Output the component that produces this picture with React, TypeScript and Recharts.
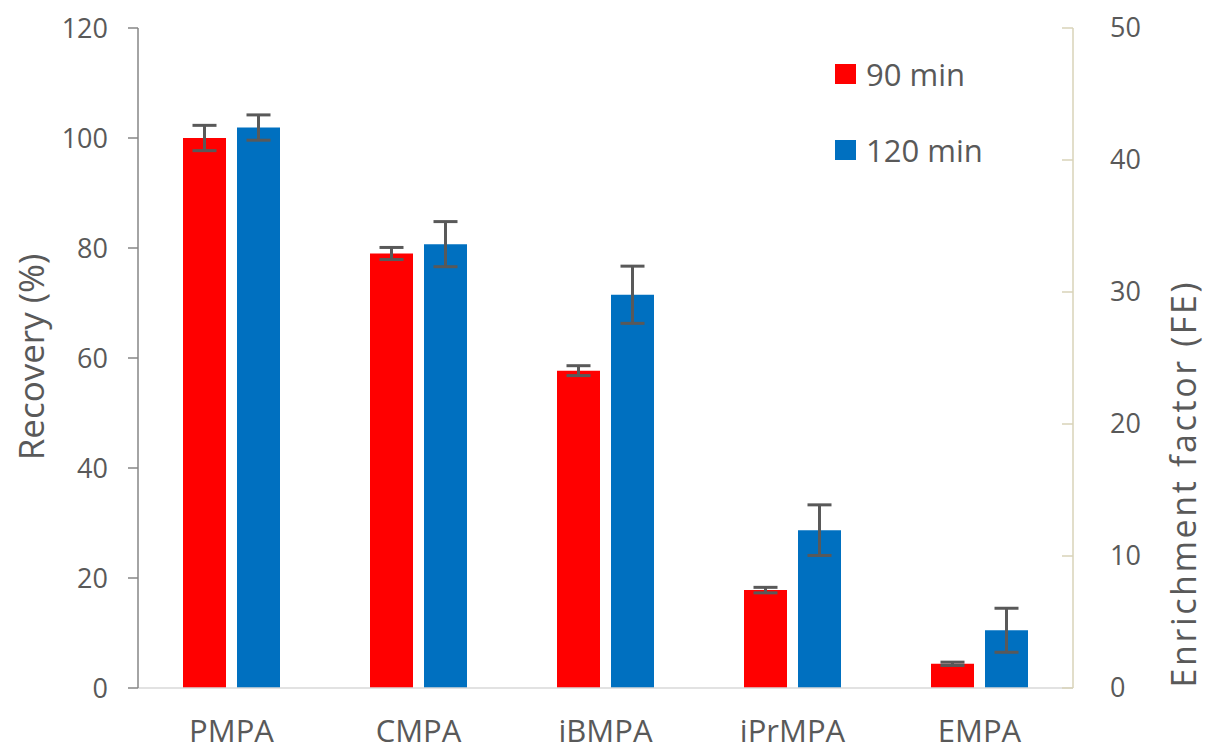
import { ComposedChart, Bar, Line, ErrorBar, XAxis, YAxis } from 'recharts'

const categories = ['PMPA', 'CMPA', 'iBMPA', 'iPrMPA', 'EMPA']
const recovery90 = [100.0, 79.0, 57.7, 17.8, 4.4]
const recovery120 = [101.9, 80.7, 71.5, 28.7, 10.5]
const error90 = [2.3, 1.1, 0.9, 0.5, 0.3]
const error120 = [2.3, 4.1, 5.2, 4.6, 4.0]
const leftTicks = [0, 20, 40, 60, 80, 100, 120]
const rightTicks = [0, 10, 20, 30, 40, 50]

const data = categories.map((name, i) => ({
    name,
    r90: recovery90[i],
    r120: recovery120[i],
    e90: error90[i],
    e120: error120[i],
}))

const FONT = '"Open Sans", sans-serif'
const TEXT = '#595959'
const RED = '#ff0000'
const BLUE = '#0070c0'
const FE_AXIS = '#d9d3b8'

function renderRightTick(props: any) {
    const { x, y, payload } = props
    return (
        <g key={'rt-' + payload.value}>
            <line x1={x - 11} y1={y} x2={x} y2={y} stroke={FE_AXIS} strokeWidth={1.5} />
            <text x={x + 37} y={y} dy="0.35em" textAnchor="start" fill={TEXT} fontSize={27} fontFamily={FONT}>
                {payload.value}
            </text>
        </g>
    )
}

// legend drawn as an overlay so it doesn't eat chart space
function LegendBox() {
    const items = [
        { label: '90 min', color: RED },
        { label: '120 min', color: BLUE },
    ]
    return (
        <div style={{ position: 'absolute', left: 835, top: 54, fontFamily: FONT }}>
            {items.map((it) => (
                <div key={it.label} style={{ display: 'flex', alignItems: 'center', height: 40, marginBottom: 36 }}>
                    <span style={{ display: 'inline-block', width: 21, height: 20, background: it.color, marginRight: 10 }} />
                    <span style={{ fontSize: 31, color: TEXT }}>{it.label}</span>
                </div>
            ))}
        </div>
    )
}

export default function App() {
    return (
        <div style={{ position: 'absolute', left: 0, top: 0, width: 1207, height: 751, background: '#fff' }}>
            <ComposedChart
                width={1207}
                height={751}
                data={data}
                barSize={43}
                barGap={11}
                margin={{ top: 28, right: 0, left: 0, bottom: 0 }}
            >
                <XAxis
                    dataKey="name"
                    height={63}
                    axisLine={{ stroke: '#d9d9d9', strokeWidth: 1.5 }}
                    tickLine={false}
                    tickSize={0}
                    tickMargin={32}
                    tick={{ fill: TEXT, fontSize: 31, fontFamily: FONT }}
                />
                <YAxis
                    yAxisId="left"
                    width={138}
                    domain={[0, 120]}
                    ticks={leftTicks}
                    interval={0}
                    axisLine={{ stroke: '#868686', strokeWidth: 1.5 }}
                    tickLine={{ stroke: '#868686', strokeWidth: 1.5 }}
                    tickSize={10}
                    tickMargin={20}
                    tick={{ fill: TEXT, fontSize: 27, fontFamily: FONT }}
                    label={{
                        content: () => (
                            <text
                                x={30}
                                y={357}
                                transform="rotate(-90 30 357)"
                                textAnchor="middle"
                                dominantBaseline="central"
                                fill={TEXT}
                                fontSize={35}
                                fontFamily={FONT}
                            >
                                Recovery (%)
                            </text>
                        ),
                    }}
                />
                <YAxis
                    yAxisId="right"
                    orientation="right"
                    width={134}
                    type="number"
                    domain={[0, 50]}
                    allowDataOverflow
                    ticks={rightTicks}
                    interval={0}
                    axisLine={{ stroke: FE_AXIS, strokeWidth: 1.5 }}
                    tickLine={false}
                    tickSize={0}
                    tickMargin={0}
                    tick={renderRightTick}
                    label={{
                        content: () => (
                            <text
                                x={1183}
                                y={485}
                                transform="rotate(-90 1183 485)"
                                textAnchor="middle"
                                dominantBaseline="central"
                                fill={TEXT}
                                fontSize={34}
                                fontFamily={FONT}
                                textLength={405}
                                lengthAdjust="spacing"
                            >
                                Enrichment factor (FE)
                            </text>
                        ),
                    }}
                />
                <Bar yAxisId="left" dataKey="r90" name="90 min" fill={RED} isAnimationActive={false}>
                    <ErrorBar dataKey="e90" width={12} strokeWidth={3} stroke="#595959" isAnimationActive={false} />
                </Bar>
                <Bar yAxisId="left" dataKey="r120" name="120 min" fill={BLUE} isAnimationActive={false}>
                    <ErrorBar dataKey="e120" width={12} strokeWidth={3} stroke="#595959" isAnimationActive={false} />
                </Bar>
                {/* empty series so the enrichment-factor axis gets its ticks */}
                <Line yAxisId="right" dataKey="fe" stroke="none" dot={false} activeDot={false} legendType="none" isAnimationActive={false} />
            </ComposedChart>
            <LegendBox />
        </div>
    )
}
